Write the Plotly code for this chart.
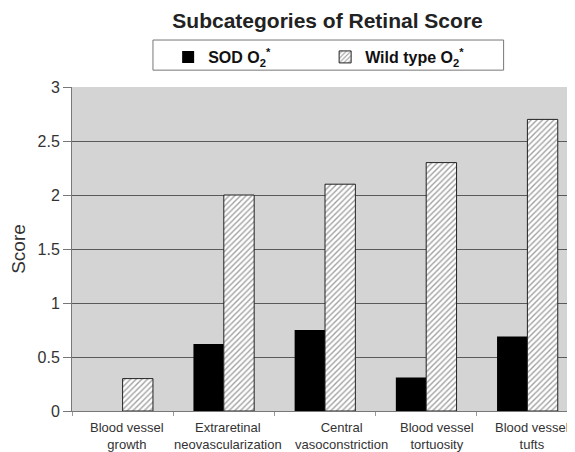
import plotly.graph_objects as go

categories = ["Blood vessel growth", "Extraretinal neovascularization", "Central vasoconstriction",
              "Blood vessel tortuosity", "Blood vessel tufts"]
tick_labels = ["Blood vessel<br>growth", "Extraretinal<br>neovascularization", "Central<br>vasoconstriction",
               "Blood vessel<br>tortuosity", "Blood vessel<br>tufts"]
sod_values = [0.0, 0.62, 0.75, 0.31, 0.69]
wild_values = [0.30, 2.0, 2.1, 2.3, 2.7]
y_ticks = [0, 0.5, 1, 1.5, 2, 2.5, 3]
y_tick_labels = ["0", "0.5", "1", "1.5", "2", "2.5", "3"]

font = "Liberation Sans, Arial, sans-serif"

fig = go.Figure()
fig.add_trace(go.Bar(
    x=categories, y=sod_values, name="<b>SOD O<sub>2</sub><sup>*</sup></b>",
    marker=dict(color="black", line=dict(color="black", width=0)),
))
fig.add_trace(go.Bar(
    x=categories, y=wild_values, name="<b>Wild type O<sub>2</sub><sup>*</sup></b>",
    marker=dict(color="white", line=dict(color="#222", width=1),
                pattern=dict(shape="/", fgcolor="#444", bgcolor="white", size=4, solidity=0.35)),
))

# category labels (placed as in the original, slightly right of each category centre)
label_shifts = [4, 4, 16, 11, 5]
for cat, lab, dx in zip(categories, tick_labels, label_shifts):
    fig.add_annotation(x=cat, y=0, xref="x", yref="y", text=lab, showarrow=False,
                       xanchor="center", yanchor="top", yshift=-7, xshift=dx,
                       font=dict(size=13, color="#333", family=font), align="center")

# legend frame
fig.add_shape(type="rect", xref="paper", yref="paper", x0=0.160, x1=0.853, y0=1.052, y1=1.145,
              line=dict(color="#777", width=1), fillcolor="white", layer="below")

fig.update_layout(
    width=575, height=452,
    margin=dict(l=64, r=5, t=79, b=49),
    paper_bgcolor="white",
    plot_bgcolor="#d4d4d4",
    barmode="group",
    bargap=0.4, bargroupgap=0,
    font=dict(family=font, color="#222"),
    title=dict(text="<b>Subcategories of Retinal Score</b>", x=0.505, xref="paper", xanchor="center",
               y=0.973, yref="container", yanchor="middle",
               font=dict(size=21, color="#222", family=font)),
    legend=dict(orientation="h", x=0.19, xanchor="left", y=1.145, yanchor="top",
                borderwidth=0, bgcolor="rgba(0,0,0,0)",
                entrywidth=112, font=dict(size=16, color="#111", family=font),
                traceorder="normal"),
    xaxis=dict(showline=True, linecolor="#777", linewidth=1, ticks="outside", tickson="boundaries",
               ticklen=4, tickcolor="#999", showticklabels=False, showgrid=False,
               automargin=False),
    yaxis=dict(range=[0, 3], tickvals=y_ticks, ticktext=y_tick_labels, showline=True, linecolor="#777",
               ticks="outside", ticklen=8, tickcolor="#777", gridcolor="#5a5a5a", gridwidth=1,
               tickfont=dict(size=16, color="#333"), automargin=False,
               title=dict(text="Score", font=dict(size=19, color="#333"), standoff=12),
               zeroline=False),
)

fig.write_html("out.html")
